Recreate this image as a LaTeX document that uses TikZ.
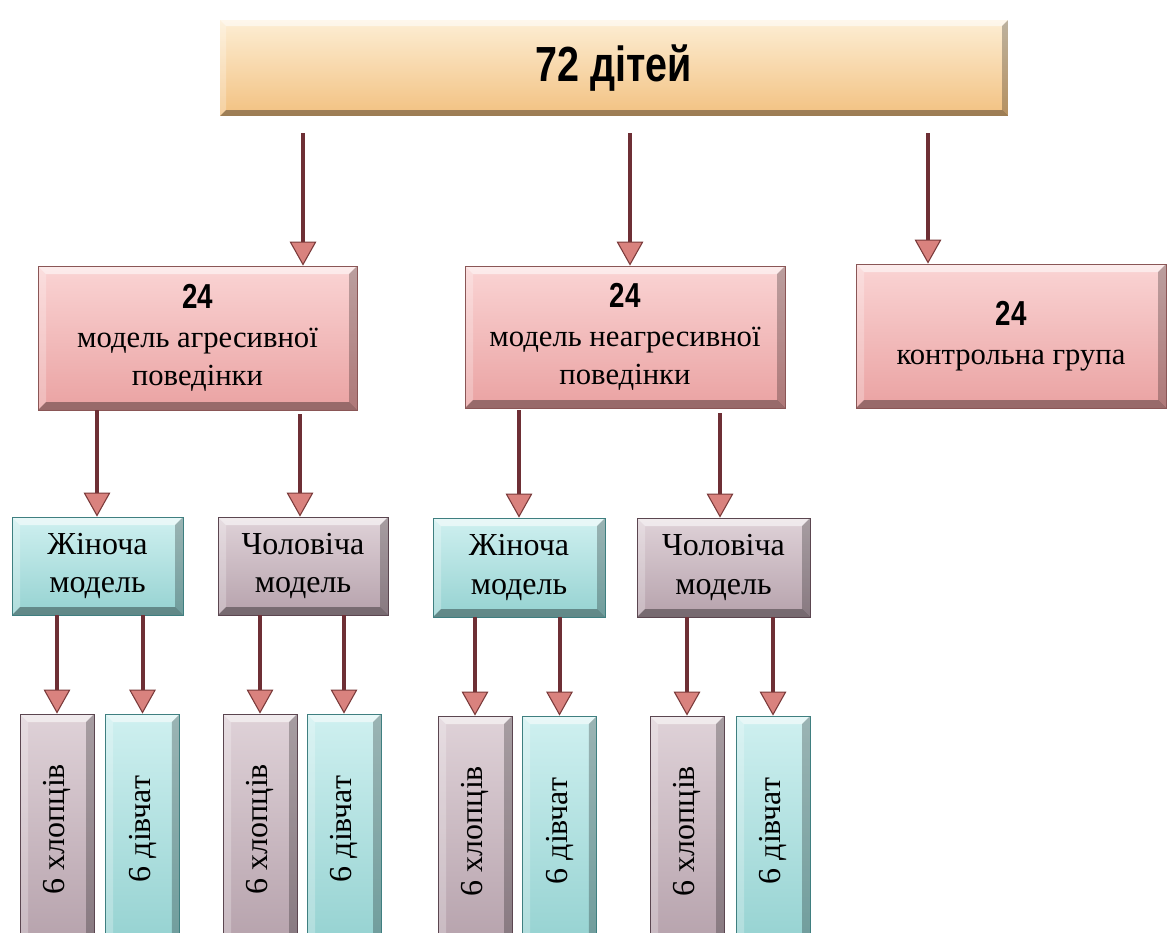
\documentclass[tikz,border=0pt]{standalone}
\usepackage{fontspec}
\setmainfont{Liberation Serif}
\newfontfamily\numfont{Liberation Sans}
\usetikzlibrary{arrows.meta,backgrounds}
\definecolor{shaft}{HTML}{6E2F35}
\definecolor{tipfill}{HTML}{D9827E}
\definecolor{tipline}{HTML}{7A3A3A}
\definecolor{topA}{HTML}{FDEFD6}
\definecolor{topB}{HTML}{F2C07F}
\definecolor{topline}{HTML}{B89470}
\definecolor{pinkA}{HTML}{FAD4D4}
\definecolor{pinkB}{HTML}{EAA2A2}
\definecolor{pinkline}{HTML}{8A5656}
\definecolor{tealA}{HTML}{CFF0F0}
\definecolor{tealB}{HTML}{95D2D1}
\definecolor{tealline}{HTML}{3F7F80}
\definecolor{mauvA}{HTML}{DFD2D8}
\definecolor{mauvB}{HTML}{B6A2AC}
\definecolor{mauvline}{HTML}{5B4650}
\newcommand\bevelpaint{%
  \path (path picture bounding box.north west) coordinate (bNW)
        (path picture bounding box.north east) coordinate (bNE)
        (path picture bounding box.south west) coordinate (bSW)
        (path picture bounding box.south east) coordinate (bSE);
  \fill[white,opacity=.55] (bNW) -- (bNE) -- ([shift={(-6pt,-6pt)}]bNE) -- ([shift={(6pt,-6pt)}]bNW) -- cycle;
  \fill[white,opacity=.25] (bNW) -- ([shift={(6pt,-6pt)}]bNW) -- ([shift={(6pt,6pt)}]bSW) -- (bSW) -- cycle;
  \fill[black,opacity=.25] (bNE) -- ([shift={(-6pt,-6pt)}]bNE) -- ([shift={(-6pt,6pt)}]bSE) -- (bSE) -- cycle;
  \fill[black,opacity=.35] (bSW) -- ([shift={(6pt,6pt)}]bSW) -- ([shift={(-6pt,6pt)}]bSE) -- (bSE) -- cycle;
}
\newcommand\bignum[2]{{\numfont\bfseries\fontsize{#1}{#1}\selectfont\scalebox{0.8}[1]{#2}}}
\tikzset{
  boxbase/.style={rectangle, inner sep=0pt, align=center, line width=0.6pt, path picture={\bevelpaint}},
  topbox/.style={boxbase, top color=topA, bottom color=topB, draw=white, line width=3pt, minimum width=594pt, minimum height=75pt},
  pinkbox/.style={boxbase, top color=pinkA, bottom color=pinkB, draw=pinkline, font=\fontsize{23}{28.5}\selectfont},
  tealbox/.style={boxbase, top color=tealA, bottom color=tealB, draw=tealline, font=\fontsize{24}{29}\selectfont},
  mauvbox/.style={boxbase, top color=mauvA, bottom color=mauvB, draw=mauvline, font=\fontsize{24}{29}\selectfont},
  vtext/.style={rotate=90, inner sep=0pt, font=\fontsize{24}{28}\selectfont},
  conn/.style={draw=shaft, line width=3pt, -{Triangle[width=20pt,length=18pt,fill=tipfill,color=tipline,line width=0.8pt]}},
}
\begin{document}
\begin{tikzpicture}[x=0.75pt,y=-0.75pt]
\useasboundingbox[fill=white] (0,0) rectangle (1167,932);
% top
\node[topbox] (top) at (614,68) {\bignum{37}{72 дітей}};
\begin{scope}[on background layer]
  \foreach \i in {1,...,5}
    \fill[black,opacity=0.045,rounded corners=\i pt] ([shift={(-1.5pt-\i pt,1pt+\i pt)}]top.north west) rectangle ([shift={(1.5pt+\i pt,-2.5pt-\i pt)}]top.south east);
\end{scope}
% second row
\node[pinkbox, minimum width=239.25pt, minimum height=108pt] (p1) at (197.5,338) {\bignum{26}{24}\\[1pt] модель агресивної\\ поведінки};
\node[pinkbox, minimum width=240pt, minimum height=106.5pt] (p2) at (625,337) {\bignum{26}{24}\\[1pt] модель неагресивної\\ поведінки};
\node[pinkbox, minimum width=232.5pt, minimum height=108pt] (p3) at (1011,336) {\bignum{26}{24}\\[1pt] контрольна група};
% third row
\node[tealbox, minimum width=128.25pt, minimum height=73.5pt] (a1) at (97.5,566) {Жіноча\\модель};
\node[mauvbox, minimum width=127.5pt, minimum height=73.5pt] (b1) at (303,566) {Чоловіча\\модель};
\node[tealbox, minimum width=129pt, minimum height=74.25pt] (a2) at (519,567.5) {Жіноча\\модель};
\node[mauvbox, minimum width=129.75pt, minimum height=74.25pt] (b2) at (723.5,567.5) {Чоловіча\\модель};
% fourth row
\node[mauvbox, minimum width=55.5pt, minimum height=172.5pt] (v1) at (57,829) {};
\node[tealbox, minimum width=56pt, minimum height=172.5pt] (v2) at (142.5,829) {};
\node[mauvbox, minimum width=55.5pt, minimum height=172.5pt] (v3) at (260,829) {};
\node[tealbox, minimum width=55.5pt, minimum height=172.5pt] (v4) at (344,829) {};
\node[mauvbox, minimum width=55.5pt, minimum height=172.5pt] (v5) at (475,831) {};
\node[tealbox, minimum width=56pt, minimum height=172.5pt] (v6) at (559.5,831) {};
\node[mauvbox, minimum width=55.5pt, minimum height=172.5pt] (v7) at (687,831) {};
\node[tealbox, minimum width=55.5pt, minimum height=172.5pt] (v8) at (773,831) {};
\node[vtext] (t1) at (v1) {6 хлопців};
\node[vtext] (t2) at (v2) {6 дівчат};
\node[vtext] (t3) at (v3) {6 хлопців};
\node[vtext] (t4) at (v4) {6 дівчат};
\node[vtext] (t5) at (v5) {6 хлопців};
\node[vtext] (t6) at (v6) {6 дівчат};
\node[vtext] (t7) at (v7) {6 хлопців};
\node[vtext] (t8) at (v8) {6 дівчат};
% connectors from top
\coordinate (s1) at (303,133);
\coordinate (s2) at (630,133);
\coordinate (s3) at (928,133);
\draw[conn] (s1) -- (s1 |- p1.north);
\draw[conn] (s2) -- (s2 |- p2.north);
\draw[conn] (s3) -- (s3 |- p3.north);
% second to third
\coordinate (c1) at (97,410);
\coordinate (c2) at (300,414);
\coordinate (c3) at (519,410);
\coordinate (c4) at (720,413);
\draw[conn] (c1) -- (c1 |- a1.north);
\draw[conn] (c2) -- (c2 |- b1.north);
\draw[conn] (c3) -- (c3 |- a2.north);
\draw[conn] (c4) -- (c4 |- b2.north);
% third to fourth
\draw[conn] (a1.south -| v1.north) -- (v1.north);
\draw[conn] (a1.south -| v2.north) -- (v2.north);
\draw[conn] (b1.south -| v3.north) -- (v3.north);
\draw[conn] (b1.south -| v4.north) -- (v4.north);
\draw[conn] (a2.south -| v5.north) -- (v5.north);
\draw[conn] (a2.south -| v6.north) -- (v6.north);
\draw[conn] (b2.south -| v7.north) -- (v7.north);
\draw[conn] (b2.south -| v8.north) -- (v8.north);
\end{tikzpicture}
\end{document}
